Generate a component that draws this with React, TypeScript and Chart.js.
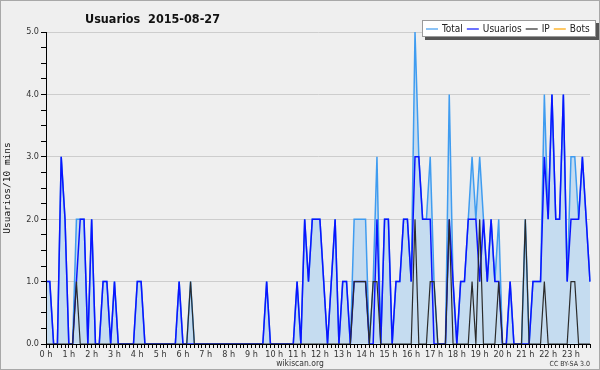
import React, { useEffect, useRef } from "react";
import { Chart, registerables } from "chart.js";

Chart.register(...registerables);

// ---- data (one value per 10-minute slot, 144 slots) ----
const HOUR_LABELS = [
  "0 h", "1 h", "2 h", "3 h", "4 h", "5 h", "6 h", "7 h", "8 h", "9 h", "10 h", "11 h",
  "12 h", "13 h", "14 h", "15 h", "16 h", "17 h", "18 h", "19 h", "20 h", "21 h", "22 h", "23 h",
];

const TOTAL = [
  1, 1, 0, 0, 3, 2, 0, 0, 2, 2, 2, 0,
  2, 0, 0, 1, 1, 0, 1, 0, 0, 0, 0, 0,
  1, 1, 0, 0, 0, 0, 0, 0, 0, 0, 0, 1,
  0, 0, 1, 0, 0, 0, 0, 0, 0, 0, 0, 0,
  0, 0, 0, 0, 0, 0, 0, 0, 0, 0, 1, 0,
  0, 0, 0, 0, 0, 0, 1, 0, 2, 1, 2, 2,
  2, 1, 0, 1, 2, 0, 1, 1, 0, 2, 2, 2,
  2, 0, 1, 3, 0, 2, 2, 0, 1, 1, 2, 2,
  1, 5, 3, 2, 2, 3, 1, 0, 0, 0, 4, 1,
  0, 1, 1, 2, 3, 2, 3, 2, 1, 2, 1, 2,
  0, 0, 1, 0, 0, 0, 2, 0, 1, 1, 1, 4,
  2, 4, 2, 2, 4, 1, 3, 3, 2, 3, 2, 1,
];

const USUARIOS = [
  1, 1, 0, 0, 3, 2, 0, 0, 1, 2, 2, 0,
  2, 0, 0, 1, 1, 0, 1, 0, 0, 0, 0, 0,
  1, 1, 0, 0, 0, 0, 0, 0, 0, 0, 0, 1,
  0, 0, 0, 0, 0, 0, 0, 0, 0, 0, 0, 0,
  0, 0, 0, 0, 0, 0, 0, 0, 0, 0, 1, 0,
  0, 0, 0, 0, 0, 0, 1, 0, 2, 1, 2, 2,
  2, 1, 0, 1, 2, 0, 1, 1, 0, 1, 1, 1,
  1, 0, 0, 2, 0, 2, 2, 0, 1, 1, 2, 2,
  1, 3, 3, 2, 2, 2, 0, 0, 0, 0, 2, 1,
  0, 1, 1, 2, 2, 2, 1, 2, 1, 2, 1, 1,
  0, 0, 1, 0, 0, 0, 0, 0, 1, 1, 1, 3,
  2, 4, 2, 2, 4, 1, 2, 2, 2, 3, 2, 1,
];

const IP = [
  0, 0, 0, 0, 0, 0, 0, 0, 1, 0, 0, 0,
  0, 0, 0, 0, 0, 0, 0, 0, 0, 0, 0, 0,
  0, 0, 0, 0, 0, 0, 0, 0, 0, 0, 0, 0,
  0, 0, 1, 0, 0, 0, 0, 0, 0, 0, 0, 0,
  0, 0, 0, 0, 0, 0, 0, 0, 0, 0, 0, 0,
  0, 0, 0, 0, 0, 0, 0, 0, 0, 0, 0, 0,
  0, 0, 0, 0, 0, 0, 0, 0, 0, 1, 1, 1,
  1, 0, 1, 1, 0, 0, 0, 0, 0, 0, 0, 0,
  0, 2, 0, 0, 0, 1, 1, 0, 0, 0, 2, 0,
  0, 0, 0, 0, 1, 0, 2, 0, 0, 0, 0, 1,
  0, 0, 0, 0, 0, 0, 2, 0, 0, 0, 0, 1,
  0, 0, 0, 0, 0, 0, 1, 1, 0, 0, 0, 0,
];

const BOTS = [
  0, 0, 0, 0, 0, 0, 0, 0, 0, 0, 0, 0,
  0, 0, 0, 0, 0, 0, 0, 0, 0, 0, 0, 0,
  0, 0, 0, 0, 0, 0, 0, 0, 0, 0, 0, 0,
  0, 0, 0, 0, 0, 0, 0, 0, 0, 0, 0, 0,
  0, 0, 0, 0, 0, 0, 0, 0, 0, 0, 0, 0,
  0, 0, 0, 0, 0, 0, 0, 0, 0, 0, 0, 0,
  0, 0, 0, 0, 0, 0, 0, 0, 0, 0, 0, 0,
  0, 0, 0, 0, 0, 0, 0, 0, 0, 0, 0, 0,
  0, 0, 0, 0, 0, 0, 0, 0, 0, 0, 0, 0,
  0, 0, 0, 0, 0, 0, 0, 0, 0, 0, 0, 0,
  0, 0, 0, 0, 0, 0, 0, 0, 0, 0, 0, 0,
  0, 0, 0, 0, 0, 0, 0, 0, 0, 0, 0, 0,
];

const TITLE = "Usuarios  2015-08-27";
const Y_TITLE = "Usuarios/10 mins";
const FOOTER = "wikiscan.org";
const LICENSE = "CC BY-SA 3.0";
const LEGEND_ORDER = ["Total", "Usuarios", "IP", "Bots"];

const SLOTS_PER_HOUR = 6;
const SLOT_LABELS = TOTAL.map((_, i) =>
  i % SLOTS_PER_HOUR === 0 ? HOUR_LABELS[i / SLOTS_PER_HOUR] : ""
);

const FONT = '"DejaVu Sans Condensed", "DejaVu Sans", sans-serif';

const decorPlugin = {
  id: "decor",
  beforeDraw(chart: any) {
    const { ctx, width, height } = chart;
    ctx.save();
    ctx.fillStyle = "#efefef";
    ctx.fillRect(0, 0, width, height);
    ctx.strokeStyle = "#a8a8a8";
    ctx.lineWidth = 1;
    ctx.strokeRect(0.5, 0.5, width - 1, height - 1);
    ctx.restore();
  },
  afterDatasetsDraw(chart: any) {
    const { ctx, chartArea } = chart;
    ctx.save();
    ctx.strokeStyle = "#000";
    ctx.lineWidth = 1;
    ctx.beginPath();
    ctx.moveTo(chartArea.left + 0.5, chartArea.top);
    ctx.lineTo(chartArea.left + 0.5, chartArea.bottom + 0.5);
    ctx.stroke();
    ctx.restore();
  },
  afterDraw(chart: any) {
    const { ctx, width } = chart;
    ctx.save();
    // title
    ctx.fillStyle = "#111";
    ctx.font = "bold 12.5px " + FONT;
    ctx.textAlign = "left";
    ctx.textBaseline = "alphabetic";
    ctx.fillText(TITLE, 85, 23);

    // legend box
    const bx = 422, by = 20, bw = 174, bh = 17;
    ctx.fillStyle = "#555";
    ctx.fillRect(bx + 3, by + 3, bw, bh);
    ctx.fillStyle = "#ffffff";
    ctx.fillRect(bx, by, bw, bh);
    ctx.strokeStyle = "#9a9a9a";
    ctx.lineWidth = 1;
    ctx.strokeRect(bx + 0.5, by + 0.5, bw - 1, bh - 1);

    ctx.font = "10px " + FONT;
    ctx.textBaseline = "middle";
    let x = bx + 4;
    const cy = by + bh / 2 + 0.5;
    LEGEND_ORDER.forEach((name) => {
      const ds = chart.data.datasets.find((d: any) => d.label === name);
      ctx.strokeStyle = ds.borderColor;
      ctx.lineWidth = 1.2;
      ctx.beginPath();
      ctx.moveTo(x, cy);
      ctx.lineTo(x + 12, cy);
      ctx.stroke();
      ctx.fillStyle = "#222";
      ctx.fillText(name, x + 16, cy);
      x += 16 + ctx.measureText(name).width + 4;
    });

    // footer texts
    ctx.textBaseline = "alphabetic";
    ctx.fillStyle = "#333";
    ctx.font = "8.5px " + FONT;
    ctx.textAlign = "center";
    ctx.fillText(FOOTER, 300, 366);
    ctx.font = "7px " + FONT;
    ctx.textAlign = "right";
    ctx.fillText(LICENSE, width - 10, 366);
    ctx.restore();
  },
};

function UsuariosChart() {
  const ref = useRef<HTMLCanvasElement | null>(null);

  useEffect(() => {
    document.body.style.margin = "0";
    const canvas = ref.current;
    if (!canvas) return;
    const chart = new Chart(canvas, {
      type: "line",
      data: {
        labels: SLOT_LABELS,
        datasets: [
          {
            label: "IP",
            data: IP,
            borderColor: "#2b2b2b",
            borderWidth: 1.2,
            pointRadius: 0,
            fill: false,
            tension: 0,
            order: 1,
          },
          {
            label: "Usuarios",
            data: USUARIOS,
            borderColor: "#0a14ff",
            borderWidth: 1.5,
            pointRadius: 0,
            fill: false,
            tension: 0,
            order: 2,
          },
          {
            label: "Total",
            data: TOTAL,
            borderColor: "#3f9cf0",
            backgroundColor: "#c5dcf0",
            borderWidth: 1.5,
            pointRadius: 0,
            fill: "origin",
            tension: 0,
            order: 3,
          },
          {
            label: "Bots",
            data: BOTS,
            borderColor: "#ffa500",
            borderWidth: 1,
            pointRadius: 0,
            fill: false,
            tension: 0,
            order: 4,
          },
        ],
      },
      options: {
        responsive: false,
        animation: false,
        devicePixelRatio: 1,
        layout: { padding: { left: 0, right: 10, top: 32, bottom: 0 } },
        plugins: {
          legend: { display: false },
          title: { display: false },
          tooltip: { enabled: false },
        },
        scales: {
          x: {
            type: "category",
            offset: false,
            z: 1,
            grid: {
              display: true,
              drawOnChartArea: false,
              drawTicks: true,
              tickLength: 4,
              tickColor: "#000",
              color: "#000",
            },
            border: { display: true, color: "#000", width: 1 },
            ticks: {
              autoSkip: false,
              maxRotation: 0,
              minRotation: 0,
              padding: 1,
              color: "#333",
              font: { family: FONT, size: 9 },
              callback: (_v: any, i: number) => SLOT_LABELS[i],
            },
            afterFit: (s: any) => {
              s.height = 26;
            },
          },
          y: {
            min: 0,
            max: 5,
            grid: {
              color: (c: any) =>
                c.tick && Number.isInteger(c.tick.value) ? "#cdcdcd" : "rgba(0,0,0,0)",
              tickColor: "#000",
              tickLength: 5,
              drawTicks: true,
            },
            border: { display: true, color: "#000" },
            ticks: {
              stepSize: 0.25,
              autoSkip: false,
              padding: 2,
              color: "#333",
              font: { family: FONT, size: 9 },
              callback: (v: any) => (Number.isInteger(v) ? Number(v).toFixed(1) : ""),
            },
            title: {
              display: true,
              text: Y_TITLE,
              color: "#111",
              font: { family: '"DejaVu Sans Mono", monospace', size: 9.5 },
              padding: { top: 2, bottom: 0 },
            },
            afterFit: (s: any) => {
              s.width = 46;
            },
          },
        },
      },
      plugins: [decorPlugin],
    } as any);
    return () => chart.destroy();
  }, []);

  return <canvas ref={ref} width={600} height={370} style={{ display: "block", width: 600, height: 370 }} />;
}

export default function App() {
  return <UsuariosChart />;
}
